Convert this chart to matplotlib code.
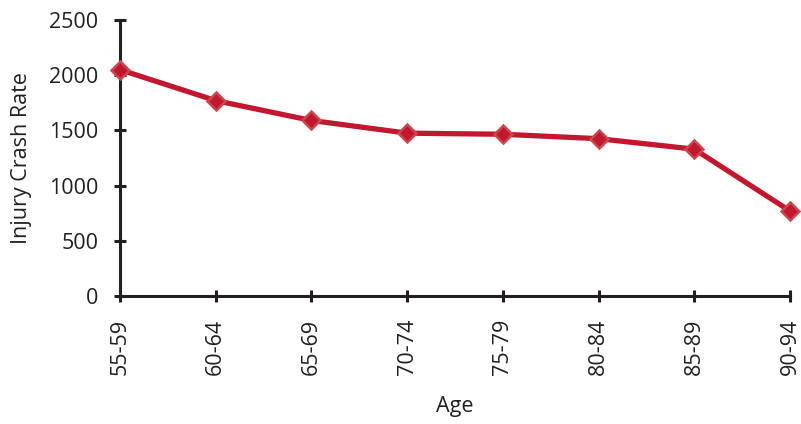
import matplotlib
matplotlib.use("Agg")
import matplotlib.pyplot as plt
import numpy as np

plt.rcParams.update({
    "font.family": ["Open Sans", "DejaVu Sans"],
    "font.size": 15.5,
})

# data
age_groups = ["55-59", "60-64", "65-69", "70-74", "75-79", "80-84", "85-89", "90-94"]
crash_rate = [2050, 1770, 1590, 1475, 1465, 1425, 1330, 770]

fig = plt.figure(figsize=(8.01, 4.24), dpi=100)
ax = fig.add_axes([0.1498, 0.3019, 0.8365, 0.6509])

x = np.arange(len(age_groups))
ax.plot(x, crash_rate, color="#C1182F", linewidth=3.8, marker="D",
        markersize=9, markerfacecolor="#C1182F", markeredgecolor="#C9474F",
        markeredgewidth=1.8, clip_on=False, zorder=3)

ax.set_xlim(0, len(age_groups) - 1)
ax.set_ylim(0, 2500)
ax.set_yticks([0, 500, 1000, 1500, 2000, 2500])
ax.set_xticks(x)
ax.set_xticklabels(age_groups, rotation=90)

for side in ["top", "right"]:
    ax.spines[side].set_visible(False)
for side in ["left", "bottom"]:
    ax.spines[side].set_linewidth(2.2)
    ax.spines[side].set_color("#231F20")

ax.tick_params(axis="both", direction="inout", length=9, width=2.2,
               color="#231F20", labelcolor="#231F20", labelsize=15.5)
ax.tick_params(axis="y", pad=11)
ax.tick_params(axis="x", pad=12)

ax.set_ylabel("Injury Crash Rate", fontsize=15.5, color="#231F20", labelpad=12)
ax.set_xlabel("Age", fontsize=15.5, color="#231F20", labelpad=15)

fig.savefig("out.png", dpi=100)
